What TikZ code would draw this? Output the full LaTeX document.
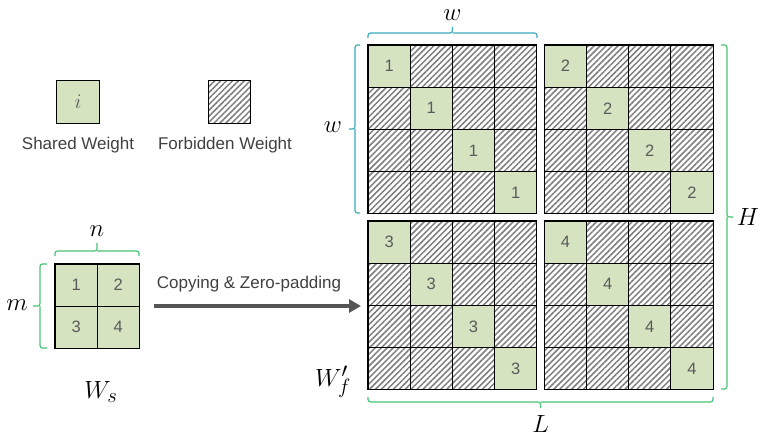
\documentclass[tikz,border=0pt]{standalone}
\usepackage{fontspec}
\setmainfont{Liberation Sans}
\usetikzlibrary{patterns.meta,arrows.meta}
\definecolor{sw}{RGB}{213,227,193}
\definecolor{tl}{RGB}{60,170,185}
\definecolor{gr}{RGB}{70,195,115}
\definecolor{txt}{RGB}{64,64,64}
\definecolor{num}{RGB}{90,90,90}
\definecolor{hatch}{RGB}{125,125,125}
\definecolor{arrowc}{RGB}{85,85,85}
\begin{document}
\begin{tikzpicture}[x=1pt,y=-1pt,
 cellbase/.style={minimum size=42.2pt, inner sep=0pt, outer sep=0pt, draw=black, line width=1.1pt, font=\fontsize{16.5}{16.5}\selectfont, text=num},
 shared/.style={cellbase, fill=sw},
 forbid/.style={cellbase, pattern={Lines[angle=45,distance=4.2pt,line width=1.5pt]}, pattern color=hatch},
 lbl/.style={font=\fontsize{17}{20}\selectfont, text=txt},
 mathlbl/.style={font=\fontsize{24}{24}\selectfont, inner sep=0pt},
 bigmath/.style={font=\fontsize{30}{30}\selectfont, inner sep=0pt},
 brc/.style={line width=1.2pt, rounded corners=2.5pt}]
\useasboundingbox (0,0) rectangle (775,444);
% big blocks
\foreach \bx/\by/\k in {368/45/1, 544.3/45/2, 368/221/3, 544.3/221/4} {
  \foreach \r in {0,...,3} {
    \foreach \c in {0,...,3} {
      \ifnum\r=\c
        \node[shared] (b\k-\r-\c) at (\bx+42.2*\c+21.1, \by+42.2*\r+21.1) {\k};
      \else
        \node[forbid] (b\k-\r-\c) at (\bx+42.2*\c+21.1, \by+42.2*\r+21.1) {};
      \fi
    }
  }
}
% Ws matrix
\node[shared] (ws1) at (76.1,285.1) {1};
\node[shared] (ws2) at (118.3,285.1) {2};
\node[shared] (ws3) at (76.1,327.3) {3};
\node[shared] (ws4) at (118.3,327.3) {4};
% legend
\node[shared, font=\fontsize{20}{20}\selectfont] (leg1) at (78,102) {$i$};
\node[forbid] (leg2) at (229.7,102) {};
\node[lbl] (leg1t) at (78,145) {Shared Weight};
\node[lbl] (leg2t) at (225,145) {Forbidden Weight};
% braces
\draw[brc, tl] (368,38) |- (452.5,33) -- (452.5,27);
\draw[brc, tl] (537,38) |- (452.5,33);
\node[mathlbl] (wtop) at (452.5,15) {$w$};
\draw[brc, tl] (360,45) -| (355,129) -- (349,129);
\draw[brc, tl] (360,213) -| (355,129);
\node[mathlbl] (wleft) at (333,127) {$w$};
\draw[brc, gr] (721,45) -| (727,217) -- (733,217);
\draw[brc, gr] (721,389) -| (727,217);
\node[mathlbl] (hl) at (748,217) {$H$};
\draw[brc, gr] (368,397) |- (540.6,402) -- (540.6,408);
\draw[brc, gr] (713,397) |- (540.6,402);
\node[mathlbl] (ll) at (540.6,424) {$L$};
\draw[brc, gr] (55,256) |- (97,251) -- (97,243);
\draw[brc, gr] (139,256) |- (97,251);
\node[mathlbl] (nl) at (97,231) {$n$};
\draw[brc, gr] (47,264) -| (40,306) -- (33,306);
\draw[brc, gr] (47,348) -| (40,306);
\node[mathlbl] (ml) at (17,305) {$m$};
% arrow
\coordinate (as) at (154,306);
\coordinate (ae) at (361,306);
\draw[line width=4pt, draw=arrowc, -{Triangle[length=12pt,width=13pt]}] (as) -- (ae);
\node[lbl] (arrl) at (249,284) {Copying \& Zero-padding};
% matrix names
\node[bigmath] (wsl) at (101,392) {$W_s$};
\node[bigmath] (wfl) at (333,382) {$W'_f$};
\end{tikzpicture}
\end{document}
